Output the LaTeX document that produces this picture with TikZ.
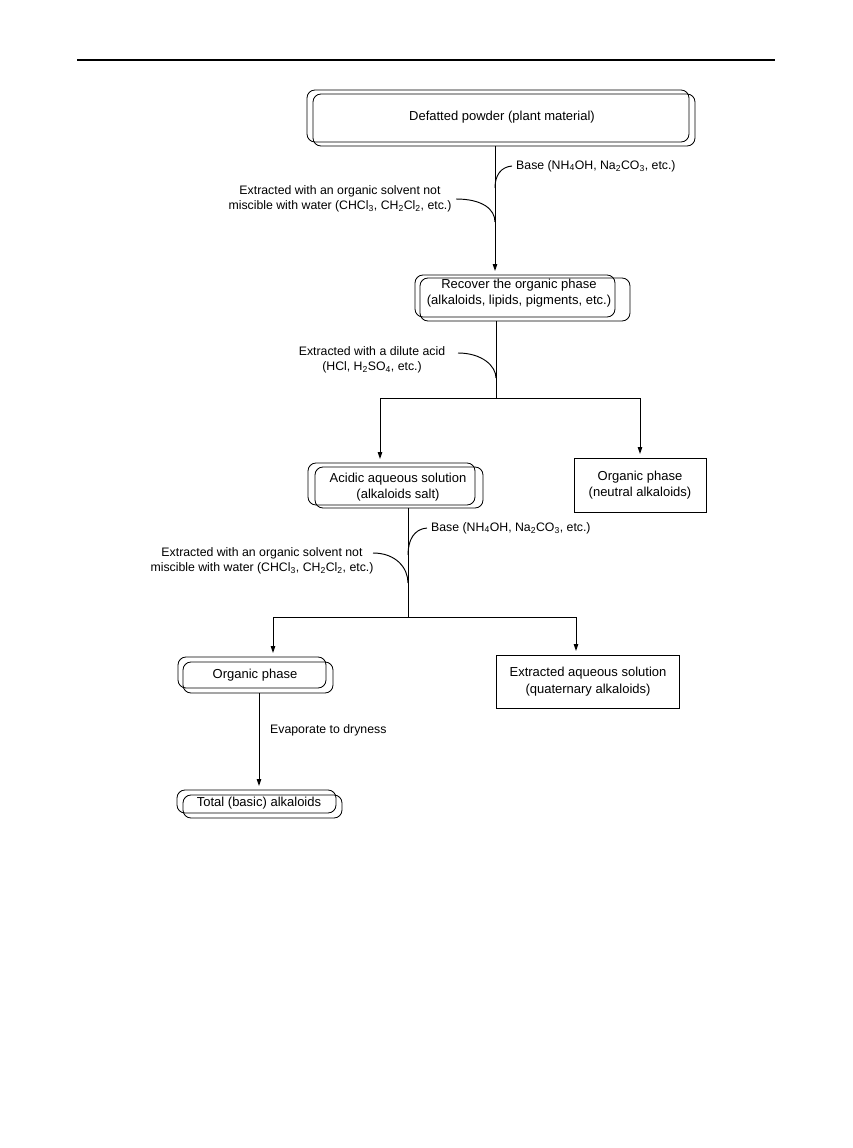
\documentclass[tikz,border=0pt]{standalone}
\usepackage{fontspec}
\setmainfont{Liberation Sans}
\usetikzlibrary{arrows.meta}
\begin{document}
\begin{tikzpicture}[x=1pt,y=-1pt,
  lbl/.style={font=\fontsize{12.3}{15.5}\selectfont, align=center, inner sep=0pt},
  btxt/.style={font=\fontsize{13}{16.5}\selectfont, align=center, inner sep=0pt},
  bx/.style={draw, line width=0.85pt, rounded corners=8pt, inner sep=0pt, outer sep=0pt},
  sq/.style={draw, line width=0.85pt, inner sep=0pt, outer sep=0pt},
  flow/.style={line width=0.95pt},
  arr/.style={flow, -{Triangle[length=7pt,width=4.5pt]}, shorten >=4pt},
  ]
\useasboundingbox (0,0) rectangle (852,1148);
\coordinate (r0) at (77,60);
\coordinate (r1) at (775,60);
\draw[line width=1.6pt] (r0) -- (r1);

% boxes
\node[bx, minimum width=382, minimum height=52] (b1) at (498,116) {};
\node[bx, minimum width=382, minimum height=52] (b1s) at (504,120) {};
\node[btxt] (t1) at (502,117) {Defatted powder (plant material)};

\node[bx, minimum width=200, minimum height=42] (b2) at (515,296) {};
\node[bx, minimum width=210, minimum height=43] (b2s) at (525,299.5) {};
\node[btxt] (t2) at (519,293) {Recover the organic phase\\(alkaloids, lipids, pigments, etc.)};

\node[bx, minimum width=167, minimum height=42] (b3) at (391.5,484) {};
\node[bx, minimum width=168, minimum height=41] (b3s) at (399,487.5) {};
\node[btxt] (t3) at (398,487) {Acidic aqueous solution\\(alkaloids salt)};

\node[sq, minimum width=132, minimum height=54, btxt] (b4) at (640,485) {Organic phase\\(neutral alkaloids)};

\node[bx, minimum width=148, minimum height=31] (b5) at (252,672.5) {};
\node[bx, minimum width=150, minimum height=31] (b5s) at (258,677.5) {};
\node[btxt] (t5) at (255,675) {Organic phase};

\node[sq, minimum width=183, minimum height=53, btxt] (b6) at (588,681.5) {Extracted aqueous solution\\(quaternary alkaloids)};

\node[bx, minimum width=159, minimum height=23] (b7) at (256.5,801.5) {};
\node[bx, minimum width=159, minimum height=23] (b7s) at (262.5,806.5) {};
\node[btxt] (t7) at (259,803) {Total (basic) alkaloids};

% x guides
\coordinate (x1) at (495,0);
\coordinate (x2) at (496,0);
\coordinate (x3) at (408,0);
\coordinate (x4) at (259,0);

% flow 1
\draw[arr] (b1s.south -| x1) -- (b2.north -| x1);

% flow 2 split
\coordinate (j1) at (496,398);
\coordinate (jl) at (380,398);
\coordinate (jr) at (640,398);
\draw[flow] (b2s.south -| x2) -- (j1);
\draw[flow] (jl) -- (jr);
\draw[arr] (jl) -- (b3.north -| jl);
\draw[arr] (jr) -- (b4.north);

% flow 3 split
\coordinate (j2) at (408,617);
\coordinate (kl) at (273,617);
\coordinate (kr) at (576,617);
\draw[flow] (b3s.south -| x3) -- (j2);
\draw[flow] (kl) -- (kr);
\draw[arr] (kl) -- (b5.north -| kl);
\draw[arr] (kr) -- (b6.north -| kr);

% flow 4
\draw[arr] (b5s.south -| x4) -- (b7.north -| x4);

% labels
\node[lbl, anchor=west] (base1) at (516,166) {Base (NH\textsubscript{4}OH, Na\textsubscript{2}CO\textsubscript{3}, etc.)};
\coordinate (k1) at (495,188);
\draw[flow] (k1) .. controls (495,175) and (501,167) .. ([xshift=-4pt]base1.west);

\node[lbl] (ext1) at (340,199) {Extracted with an organic solvent not\\miscible with water (CHCl\textsubscript{3}, CH\textsubscript{2}Cl\textsubscript{2}, etc.)};
\coordinate (e1) at (456,199);
\coordinate (k2) at (495,222);
\draw[flow] (e1) .. controls (482,199) and (495,209) .. (k2);

\node[lbl] (acid) at (372,360) {Extracted with a dilute acid\\(HCl, H\textsubscript{2}SO\textsubscript{4}, etc.)};
\coordinate (a0) at (458,353);
\coordinate (a1) at (496,378);
\draw[flow] (a0) .. controls (482,353) and (496,366) .. (a1);

\node[lbl, anchor=west] (base2) at (431,528) {Base (NH\textsubscript{4}OH, Na\textsubscript{2}CO\textsubscript{3}, etc.)};
\coordinate (k3) at (408,555);
\draw[flow] (k3) .. controls (408,540) and (414,529) .. ([xshift=-4pt]base2.west);

\node[lbl] (ext2) at (262,561) {Extracted with an organic solvent not\\miscible with water (CHCl\textsubscript{3}, CH\textsubscript{2}Cl\textsubscript{2}, etc.)};
\coordinate (e2) at (373,553);
\coordinate (k4) at (408,583);
\draw[flow] (e2) .. controls (396,553) and (408,568) .. (k4);

\node[lbl, anchor=west] (evap) at (270,730) {Evaporate to dryness};
\end{tikzpicture}
\end{document}
